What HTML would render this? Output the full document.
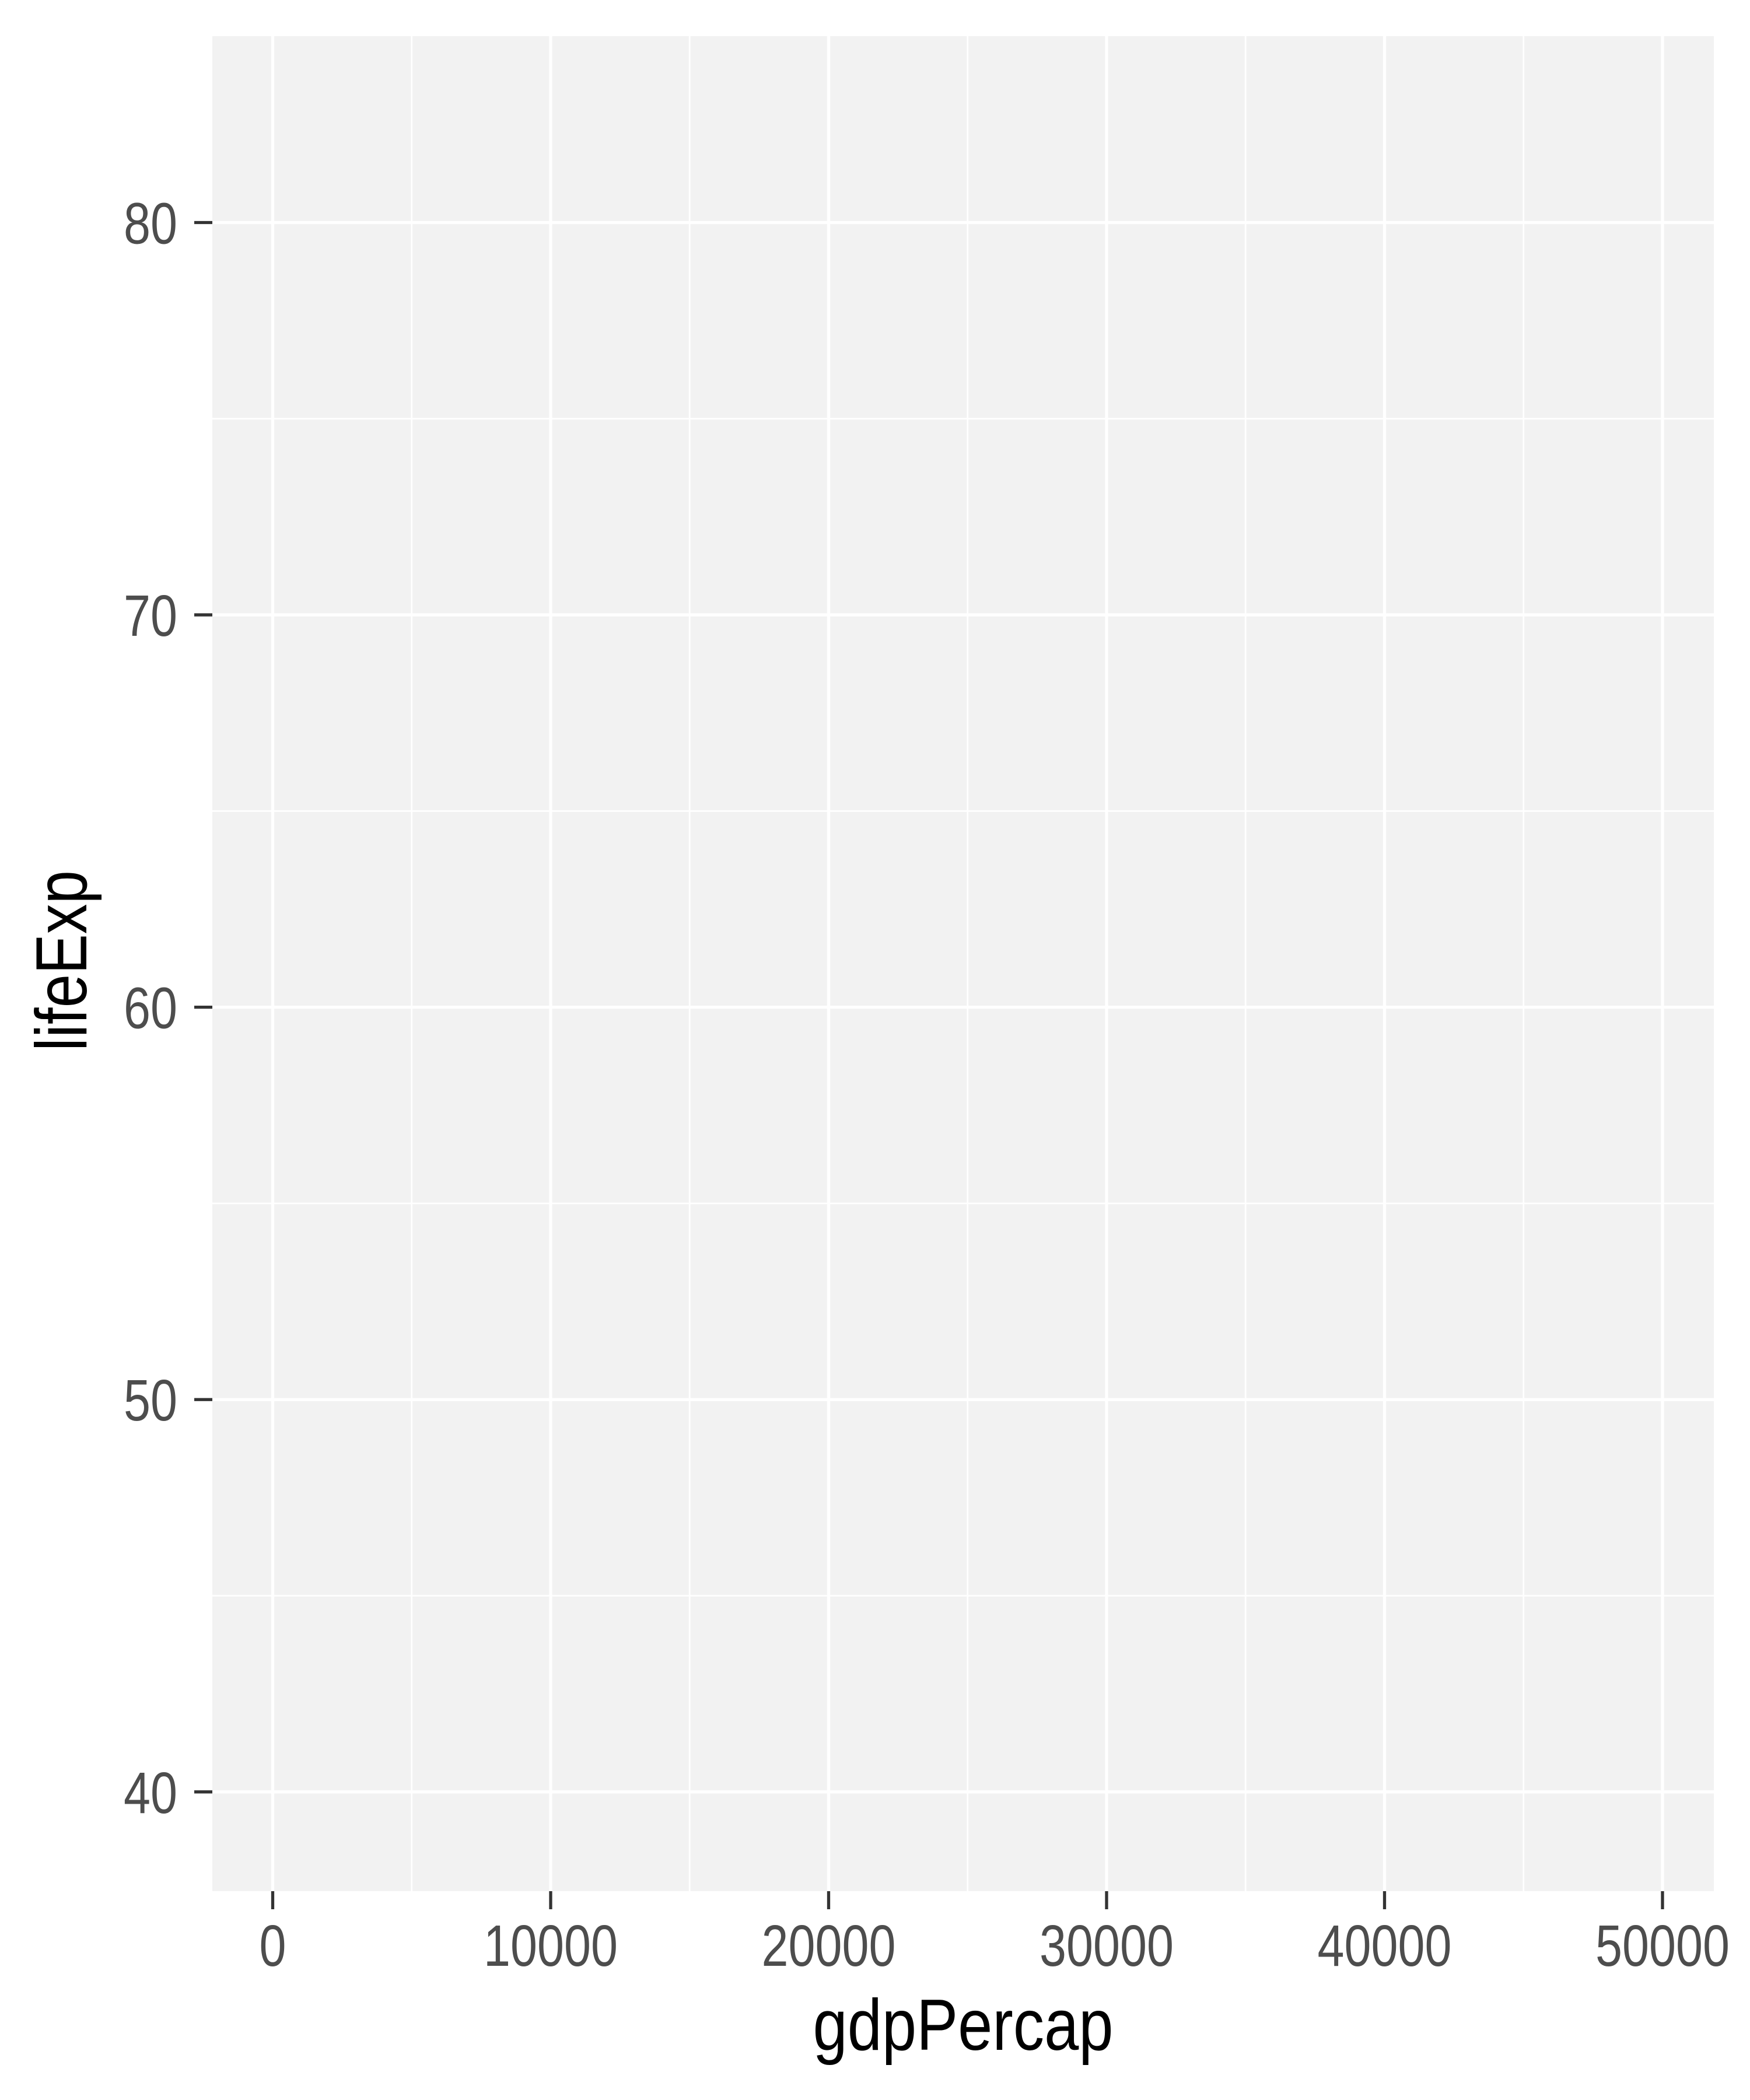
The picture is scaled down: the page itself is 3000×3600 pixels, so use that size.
<!DOCTYPE html>
<html>
<head>
<meta charset="utf-8">
<style>
  html,body{margin:0;padding:0;background:#fff;}
  svg{display:block;}
  .tick-label{font-family:"Liberation Sans Narrow","Liberation Sans",sans-serif;font-size:100px;fill:#4d4d4d;}
  .axis-title{font-family:"Liberation Sans Narrow","Liberation Sans",sans-serif;font-size:124px;fill:#000;}
</style>
</head>
<body>
<svg id="chart" width="3000" height="3600" viewBox="0 0 3000 3600" xmlns="http://www.w3.org/2000/svg">
  <rect x="0" y="0" width="3000" height="3600" fill="#ffffff"/>
  <rect x="364" y="62" width="2574" height="3180" fill="#f2f2f2"/>
  <g id="grid-minor"></g>
  <g id="grid-major"></g>
  <g id="x-axis"></g>
  <g id="y-axis"></g>
  <text class="axis-title" x="1651" y="3514" text-anchor="middle" textLength="515" lengthAdjust="spacingAndGlyphs">gdpPercap</text>
  <text class="axis-title" x="0" y="0" text-anchor="middle" textLength="310" lengthAdjust="spacingAndGlyphs" transform="translate(148,1647) rotate(-90)">lifeExp</text>
</svg>
<script>
const xTicks = [0, 10000, 20000, 30000, 40000, 50000];
const xTickLabels = ["0", "10000", "20000", "30000", "40000", "50000"];
const xMinorTicks = [5000, 15000, 25000, 35000, 45000];
const yTicks = [40, 50, 60, 70, 80];
const yTickLabels = ["40", "50", "60", "70", "80"];
const yMinorTicks = [45, 55, 65, 75];
const xDomain = [-2172, 51847];
const yDomain = [37.47, 84.75];

const P = {left:364, right:2938, top:62, bottom:3242};
const NS = "http://www.w3.org/2000/svg";
function xScale(v){ return P.left + (v - xDomain[0]) / (xDomain[1] - xDomain[0]) * (P.right - P.left); }
function yScale(v){ return P.bottom - (v - yDomain[0]) / (yDomain[1] - yDomain[0]) * (P.bottom - P.top); }
function mk(tag, attrs){ const e = document.createElementNS(NS, tag); for (const k in attrs) e.setAttribute(k, attrs[k]); return e; }

const gMinor = document.getElementById('grid-minor');
const gMajor = document.getElementById('grid-major');
const gX = document.getElementById('x-axis');
const gY = document.getElementById('y-axis');

xMinorTicks.forEach(v => {
  const x = xScale(v);
  const l = mk('line', {x1:x, x2:x, y1:P.top, y2:P.bottom, stroke:'#ffffff', 'stroke-width':2.7});
  
  
  gMinor.appendChild(l);
});
yMinorTicks.forEach(v => {
  const y = yScale(v);
  const l = mk('line', {x1:P.left, x2:P.right, y1:y, y2:y, stroke:'#ffffff', 'stroke-width':2.7});
  
  
  gMinor.appendChild(l);
});
xTicks.forEach((v, i) => {
  const x = xScale(v);
  const l = mk('line', {x1:x, x2:x, y1:P.top, y2:P.bottom, stroke:'#ffffff', 'stroke-width':5.3});
  
  
  gMajor.appendChild(l);
  const t = mk('line', {x1:x, x2:x, y1:P.bottom, y2:P.bottom + 31, stroke:'#333333', 'stroke-width':5.3});
  
  
  gX.appendChild(t);
  const lab = xTickLabels[i];
  const tx = mk('text', {x:x, y:3370, 'text-anchor':'middle', class:'tick-label', textLength:lab.length * 46, lengthAdjust:'spacingAndGlyphs'});
  tx.textContent = lab;
  
  
  gX.appendChild(tx);
});
yTicks.forEach((v, i) => {
  const y = yScale(v);
  const l = mk('line', {x1:P.left, x2:P.right, y1:y, y2:y, stroke:'#ffffff', 'stroke-width':5.3});
  
  
  gMajor.appendChild(l);
  const t = mk('line', {x1:P.left - 31, x2:P.left, y1:y, y2:y, stroke:'#333333', 'stroke-width':5.3});
  
  
  gY.appendChild(t);
  const lab = yTickLabels[i];
  const tx = mk('text', {x:304, y:y + 36, 'text-anchor':'end', class:'tick-label', textLength:lab.length * 46, lengthAdjust:'spacingAndGlyphs'});
  tx.textContent = lab;
  
  
  gY.appendChild(tx);
});
</script>
</body>
</html>
